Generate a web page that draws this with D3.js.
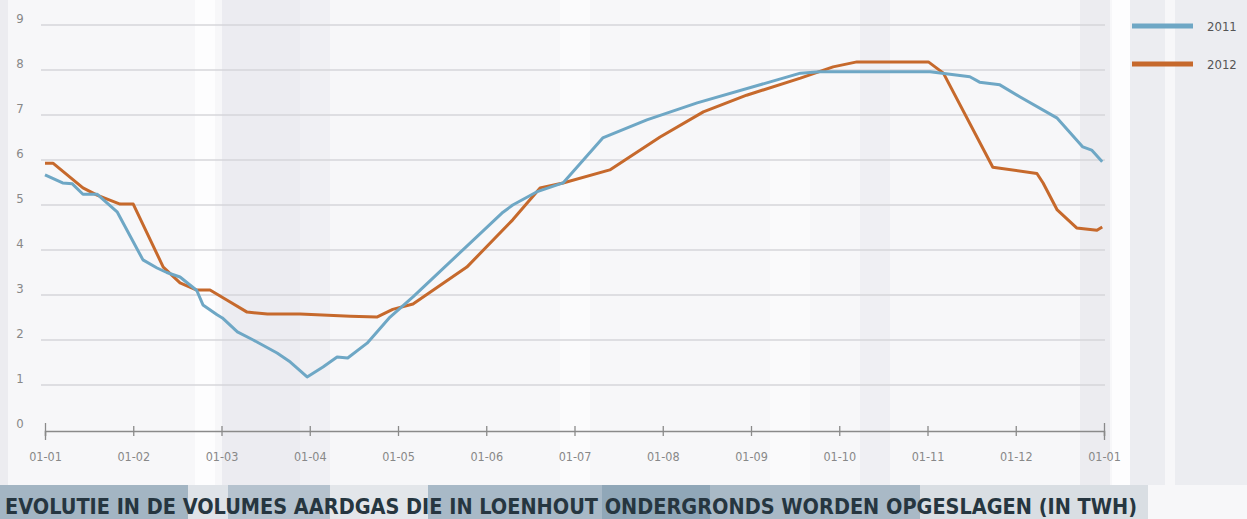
<!DOCTYPE html>
<html>
<head>
<meta charset="utf-8">
<script src="https://cdn.jsdelivr.net/npm/d3@7"></script>
<style>
  body { margin: 0; background: #f7f7f9; }
  svg { display: block; }
  text { font-family: "DejaVu Sans Condensed", "Liberation Sans Narrow", sans-serif; }
</style>
</head>
<body>
<svg id="chart" width="1247" height="519"></svg>
<script>
// months since 01-01 for each reading
var monthLabels = ["01-01", "01-02", "01-03", "01-04", "01-05", "01-06", "01-07",
                   "01-08", "01-09", "01-10", "01-11", "01-12", "01-01"];
var yTicks = [0, 1, 2, 3, 4, 5, 6, 7, 8, 9];

var months2011 = [0.00, 0.20, 0.31, 0.43, 0.59, 0.82, 1.11, 1.27, 1.38, 1.53, 1.72, 1.79,
                  1.95, 2.01, 2.18, 2.36, 2.63, 2.78, 2.97, 3.15, 3.31, 3.43, 3.65, 3.91,
                  4.17, 5.19, 5.30, 5.57, 5.87, 6.32, 6.82, 7.39, 8.56, 8.78, 10.03, 10.48,
                  10.59, 10.82, 11.05, 11.47, 11.76, 11.86, 11.98];
var values2011 = [5.67, 5.49, 5.47, 5.24, 5.24, 4.84, 3.78, 3.60, 3.50, 3.40, 3.10, 2.78,
                  2.56, 2.49, 2.18, 2.00, 1.71, 1.51, 1.18, 1.40, 1.62, 1.60, 1.93, 2.51,
                  2.96, 4.84, 5.00, 5.29, 5.49, 6.49, 6.89, 7.27, 7.93, 7.96, 7.96, 7.85,
                  7.73, 7.67, 7.40, 6.93, 6.29, 6.22, 5.96];

var months2012 = [0.00, 0.09, 0.43, 0.59, 0.85, 1.00, 1.34, 1.53, 1.72, 1.87, 2.06, 2.29,
                  2.52, 2.89, 3.46, 3.76, 3.94, 4.17, 4.78, 5.30, 5.61, 5.87, 6.40, 6.97,
                  7.46, 7.95, 8.56, 8.93, 9.20, 10.01, 10.18, 10.74, 11.24, 11.31, 11.47,
                  11.69, 11.92, 11.98];
var values2012 = [5.93, 5.93, 5.38, 5.22, 5.02, 5.02, 3.62, 3.27, 3.11, 3.11, 2.89, 2.62,
                  2.58, 2.58, 2.53, 2.51, 2.68, 2.80, 3.62, 4.67, 5.38, 5.49, 5.78, 6.51,
                  7.07, 7.44, 7.82, 8.07, 8.18, 8.18, 7.93, 5.84, 5.70, 5.49, 4.89,
                  4.49, 4.44, 4.51];

var seriesNames = ["2011", "2012"];
var seriesColors = ["#6ea7c5", "#c6692c"];

var title = "EVOLUTIE IN DE VOLUMES AARDGAS DIE IN LOENHOUT ONDERGRONDS WORDEN OPGESLAGEN (IN TWH)";

var svg = d3.select("#chart");

// photographed-print background streaks
var streaks = [[0, 8, "#ececf0"], [195, 20, "#fdfdfe"], [222, 80, "#ececf1"], [300, 30, "#f0f0f4"],
               [560, 30, "#fbfbfc"], [770, 40, "#fafafb"], [860, 30, "#efeff3"],
               [1080, 30, "#ececf0"], [1112, 18, "#fdfdfe"], [1130, 117, "#ecedf1"],
               [1165, 10, "#f7f7f9"]];
svg.selectAll("rect.streak").data(streaks).enter().append("rect")
    .attr("class", "streak")
    .attr("x", d => d[0]).attr("y", 0)
    .attr("width", d => d[1]).attr("height", 485)
    .attr("fill", d => d[2]);

var x = d3.scaleLinear().domain([0, 12]).range([45, 1104]);
var y = d3.scaleLinear().domain([0, 9]).range([430, 25]);

// gridlines
svg.append("g").selectAll("line").data(yTicks.slice(1)).enter().append("line")
    .attr("x1", 41).attr("x2", 1105)
    .attr("y1", d => y(d)).attr("y2", d => y(d))
    .attr("stroke", "#d6d6da").attr("stroke-width", 1.5);

// y labels
svg.append("g").selectAll("text").data(yTicks).enter().append("text")
    .attr("x", 20).attr("y", d => y(d) - 2)
    .attr("text-anchor", "middle")
    .attr("font-size", 13).attr("fill", "#888")
    .text(d => d);

// x axis
var xAxis = d3.axisBottom(x)
    .tickValues(d3.range(13))
    .tickFormat(i => monthLabels[i])
    .tickSize(5).tickPadding(16);
var gx = svg.append("g").attr("transform", "translate(0,431)").call(xAxis);
gx.select(".domain").attr("stroke", "#8a8a8a").attr("stroke-width", 1.6);
gx.selectAll(".tick line").attr("y1", -5).attr("stroke", "#8a8a8a").attr("stroke-width", 1.3);
gx.selectAll(".tick line").filter(d => d === 0 || d === 12).attr("y1", -8).attr("y2", 9);
gx.selectAll(".tick text").attr("font-size", 12.5).attr("fill", "#888")
    .attr("font-family", "DejaVu Sans Condensed, sans-serif");

// series lines
var line = d3.line().x(d => x(d[0])).y(d => y(d[1]));
var series = [d3.zip(months2011, values2011), d3.zip(months2012, values2012)];
svg.append("g").selectAll("path").data([1, 0]).enter().append("path")
    .attr("d", i => line(series[i]))
    .attr("fill", "none")
    .attr("stroke", i => seriesColors[i])
    .attr("stroke-width", 3)
    .attr("stroke-linejoin", "round");

// legend
var legend = svg.append("g").selectAll("g").data(seriesNames).enter().append("g")
    .attr("transform", (d, i) => "translate(0," + (26 + i * 38) + ")");
legend.append("line").attr("x1", 1132).attr("x2", 1193)
    .attr("stroke", (d, i) => seriesColors[i]).attr("stroke-width", 5);
legend.append("text").attr("x", 1207).attr("y", 5)
    .attr("font-size", 13).attr("fill", "#555").text(d => d);

// title bar
var bands = [[0, 188, "#a3b5c3"], [188, 40, "#dfe3e8"], [228, 102, "#b5c2ce"], [330, 98, "#e3e6ea"],
             [428, 174, "#a8b9c7"], [602, 108, "#90a7b8"], [710, 210, "#a9b9c6"], [920, 228, "#d9dee3"]];
svg.selectAll("rect.band").data(bands).enter().append("rect")
    .attr("class", "band")
    .attr("x", d => d[0]).attr("y", 485)
    .attr("width", d => d[1]).attr("height", 34)
    .attr("fill", d => d[2]);
svg.append("text")
    .attr("x", 5).attr("y", 514)
    .attr("font-size", 22).attr("font-weight", "bold")
    .attr("fill", "#263640")
    .attr("textLength", 1132).attr("lengthAdjust", "spacingAndGlyphs")
    .text(title);
</script>
</body>
</html>
